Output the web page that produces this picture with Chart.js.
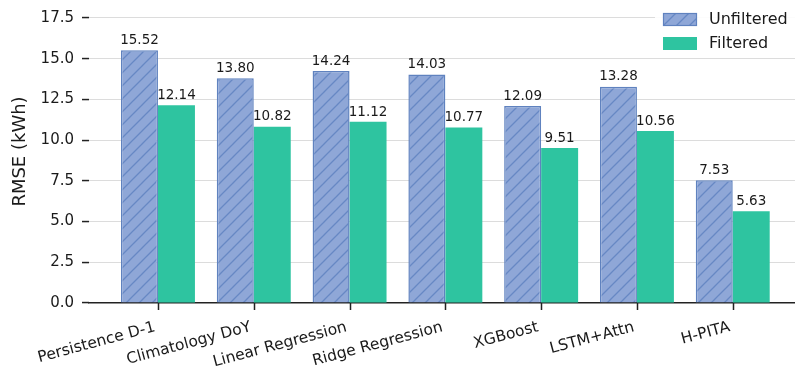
<!DOCTYPE html>
<html>
<head>
<meta charset="utf-8">
<title>RMSE by model</title>
<script src="https://cdn.jsdelivr.net/npm/chart.js@4.4.1/dist/chart.umd.min.js"></script>
<style>
  html, body { margin: 0; padding: 0; background: #fff; }
  #rmseChart { display: block; }
</style>
</head>
<body>
<canvas id="rmseChart" width="795" height="371"></canvas>
<script>
var models = ['Persistence D-1', 'Climatology DoY', 'Linear Regression', 'Ridge Regression', 'XGBoost', 'LSTM+Attn', 'H-PITA'];
var unfiltered = [15.52, 13.80, 14.24, 14.03, 12.09, 13.28, 7.53];
var filtered = [12.14, 10.82, 11.12, 10.77, 9.51, 10.56, 5.63];
var yTicks = [0, 2.5, 5, 7.5, 10, 12.5, 15, 17.5];

const FONT = "'DejaVu Sans', sans-serif";
const ctx = document.getElementById('rmseChart').getContext('2d');

// diagonal hatch for the unfiltered bars
function makeHatch(bg, line) {
    const size = 13;
    const c = document.createElement('canvas');
    c.width = size;
    c.height = size;
    const p = c.getContext('2d');
    p.fillStyle = bg;
    p.fillRect(0, 0, size, size);
    p.strokeStyle = line;
    p.lineWidth = 1.3;
    p.beginPath();
    p.moveTo(0, size); p.lineTo(size, 0);
    p.moveTo(-size / 2, size / 2); p.lineTo(size / 2, -size / 2);
    p.moveTo(size / 2, size * 1.5); p.lineTo(size * 1.5, size / 2);
    p.stroke();
    return ctx.createPattern(c, 'repeat');
}

const hatchBlue = makeHatch('#8fa7d7', '#6788c4');

function toPoints(arr) {
    return arr.map((v, i) => ({ x: i, y: v }));
}

// numbers above each bar
const valueLabels = {
    id: 'valueLabels',
    afterDatasetsDraw(chart) {
        const c = chart.ctx;
        c.save();
        c.font = '13.5px ' + FONT;
        c.fillStyle = '#1a1a1a';
        c.textAlign = 'center';
        c.textBaseline = 'bottom';
        chart.data.datasets.forEach((ds, di) => {
            const meta = chart.getDatasetMeta(di);
            meta.data.forEach((bar, i) => {
                c.fillText(ds.data[i].y.toFixed(2), bar.x, bar.y - 3);
            });
        });
        c.restore();
    }
};

// small tick marks under the x axis, one per model
const xTickMarks = {
    id: 'xTickMarks',
    afterDraw(chart) {
        const c = chart.ctx;
        const xs = chart.scales.x;
        const y0 = chart.chartArea.bottom;
        c.save();
        c.strokeStyle = '#222';
        c.lineWidth = 1.5;
        c.beginPath();
        models.forEach((_, i) => {
            const px = Math.round(xs.getPixelForValue(i)) + 0.5;
            c.moveTo(px, y0);
            c.lineTo(px, y0 + 7);
        });
        c.stroke();
        c.restore();
    }
};

// legend sitting inside the plot, top right
const innerLegend = {
    id: 'innerLegend',
    afterDraw(chart) {
        const c = chart.ctx;
        const right = chart.chartArea.right;
        const top = chart.chartArea.top;
        c.save();
        c.fillStyle = 'rgba(255,255,255,0.9)';
        c.fillRect(right - 140, top + 4, 140, 52);
        const items = [
            { text: 'Unfiltered', fill: hatchBlue, edge: '#5f82bf' },
            { text: 'Filtered', fill: '#2ec4a0', edge: null }
        ];
        items.forEach((it, k) => {
            const x = right - 132;
            const y = top + 13 + k * 24;
            c.fillStyle = it.fill;
            c.fillRect(x, y, 34, 13);
            if (it.edge) {
                c.strokeStyle = it.edge;
                c.lineWidth = 1.2;
                c.strokeRect(x + 0.5, y + 0.5, 33, 12);
            }
            c.fillStyle = '#1a1a1a';
            c.font = '16px ' + FONT;
            c.textAlign = 'left';
            c.textBaseline = 'middle';
            c.fillText(it.text, x + 46, y + 7);
        });
        c.restore();
    }
};

new Chart(ctx, {
    type: 'bar',
    data: {
        datasets: [
            {
                label: 'Unfiltered',
                data: toPoints(unfiltered),
                backgroundColor: hatchBlue,
                borderColor: '#5f82bf',
                borderWidth: 1.5,
                borderSkipped: 'bottom'
            },
            {
                label: 'Filtered',
                data: toPoints(filtered),
                backgroundColor: '#2ec4a0',
                borderWidth: 0
            }
        ]
    },
    options: {
        responsive: false,
        animation: false,
        events: [],
        layout: { padding: 0 },
        datasets: {
            bar: { categoryPercentage: 0.772, barPercentage: 1.0 }
        },
        plugins: {
            legend: { display: false },
            tooltip: { enabled: false }
        },
        scales: {
            x: {
                type: 'linear',
                min: -0.72,
                max: 6.65,
                offset: false,
                afterBuildTicks(scale) {
                    scale.ticks = models.map((_, i) => ({ value: i }));
                },
                afterFit(scale) {
                    scale.height = 68;
                    scale.paddingLeft = 0;
                    scale.paddingRight = 0;
                },
                ticks: {
                    autoSkip: false,
                    minRotation: 15,
                    maxRotation: 15,
                    padding: 8,
                    labelOffset: -3,
                    color: '#1a1a1a',
                    font: { family: FONT, size: 15.5 },
                    callback: (v) => models[v]
                },
                grid: {
                    display: false,
                    tickLength: 7
                },
                border: { display: true, color: '#222', width: 1.5 }
            },
            y: {
                min: 0,
                max: 18.6,
                afterBuildTicks(scale) {
                    scale.ticks = yTicks.map(v => ({ value: v }));
                },
                afterFit(scale) {
                    scale.width = 89;
                    scale.paddingTop = 0;
                    scale.paddingBottom = 0;
                },
                ticks: {
                    padding: 8,
                    color: '#1a1a1a',
                    font: { family: FONT, size: 15 },
                    callback: (v) => v.toFixed(1)
                },
                grid: {
                    color: '#dcdcdc',
                    lineWidth: 1.1,
                    tickLength: 7,
                    tickColor: '#222',
                    tickWidth: 1.5
                },
                border: { display: false },
                title: {
                    display: true,
                    text: 'RMSE (kWh)',
                    color: '#1a1a1a',
                    font: { family: FONT, size: 18 },
                    padding: { top: 10, bottom: 4 }
                }
            }
        }
    },
    plugins: [valueLabels, xTickMarks, innerLegend]
});
</script>
</body>
</html>
